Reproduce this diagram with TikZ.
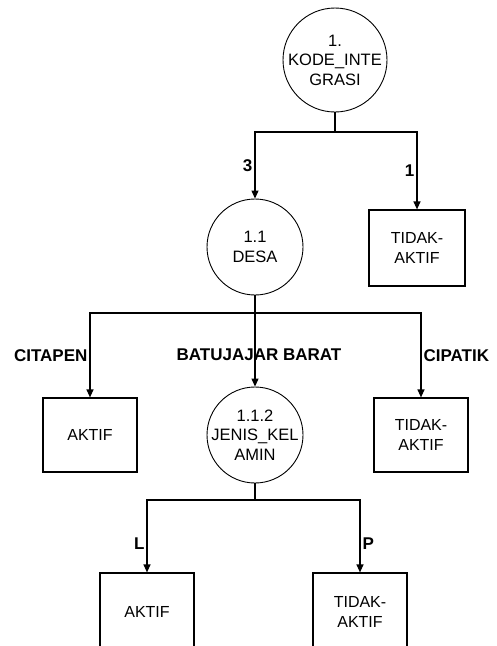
\documentclass[tikz,border=0pt]{standalone}
\usepackage{fontspec}
\setmainfont{Liberation Sans}
\usetikzlibrary{arrows.meta}

\begin{document}
\begin{tikzpicture}[x=1pt,y=-1pt,
  proc/.style={draw,circle,line width=0.9pt,minimum size=#1,inner sep=-14pt,
    align=center,font=\fontsize{16.5}{19.5}\selectfont},
  proc/.default=96,
  ent/.style={draw,rectangle,line width=1.2pt,minimum width=96,minimum height=76,
    inner sep=0pt,align=center,font=\fontsize{16}{19.5}\selectfont},
  flow/.style={line width=1.2pt,-{Triangle[width=7pt,length=8pt]}},
  link/.style={line width=1.2pt},
  lbl/.style={font=\fontsize{17}{19}\selectfont\bfseries,inner sep=2pt}]
\useasboundingbox (0,0) rectangle (497,646);
\node[proc=104] (p1) at (335,60) {1.\\KODE\_INTE\\GRASI};
\node[proc] (p11) at (255,247) {1.1\\DESA};
\node[ent] (tb1) at (417,248) {TIDAK-\\AKTIF};
\node[ent,minimum width=94,minimum height=74] (a1) at (90,435) {AKTIF};
\node[proc] (p112) at (255,435) {1.1.2\\JENIS\_KEL\\AMIN};
\node[ent,minimum width=94,minimum height=74] (tb2) at (421,435) {TIDAK-\\AKTIF};
\node[ent,minimum width=94,minimum height=78] (a2) at (147,612) {AKTIF};
\node[ent,minimum width=94,minimum height=78] (tb3) at (360,612) {TIDAK-\\AKTIF};
\coordinate (j1) at (335,132);
\coordinate (j2) at (255,313);
\coordinate (j3) at (255,500);
\draw[link] (p1) -- (j1);
\draw[flow] (j1) -| node[lbl,pos=0.75,left] {3} (p11.north);
\draw[flow] (j1) -| node[lbl,pos=0.75,left] {1} (tb1.north);
\draw[flow] (j2) -| node[lbl,pos=0.75,left] {CITAPEN} (a1.north);
\draw[flow] (j2) -| node[lbl,pos=0.75,right] {CIPATIK} (tb2.north);
\node[lbl] (bb) at (259,355) {BATUJAJAR BARAT};
\draw[flow] (p11) -- (p112);
\draw[link] (p112) -- (j3);
\draw[flow] (j3) -| node[lbl,pos=0.8,left] {L} (a2.north);
\draw[flow] (j3) -| node[lbl,pos=0.8,right] {P} (tb3.north);
\end{tikzpicture}
\end{document}
